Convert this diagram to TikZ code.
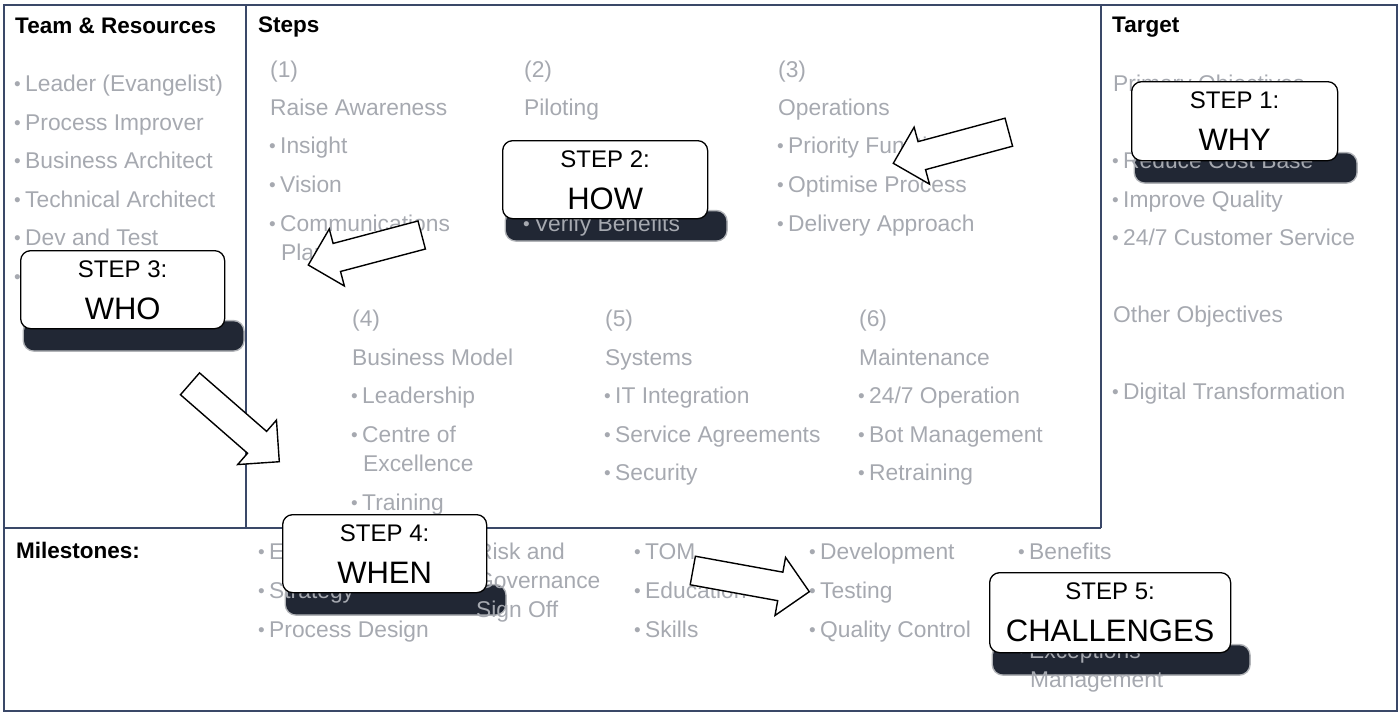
\documentclass[tikz,border=0pt]{standalone}
\usepackage{fontspec}
\setmainfont{Liberation Sans}
\usetikzlibrary{calc}
\definecolor{framecol}{RGB}{58,72,104}
\definecolor{graytxt}{RGB}{166,169,176}
\definecolor{shadowcol}{RGB}{33,39,52}
\pgfdeclarelayer{framelayer}
\pgfdeclarelayer{shadowlayer}
\pgfdeclarelayer{textlayer}
\pgfsetlayers{framelayer,shadowlayer,textlayer,main}

\newcommand\bul{\makebox[10pt][l]{\hspace{-1pt}\raisebox{0.6pt}{\fontsize{19}{19}\selectfont •}}}

\tikzset{
 gt/.style={anchor=base west, inner sep=0pt, text=graytxt, font=\fontsize{22.8}{26}\selectfont},
 hdr/.style={anchor=base west, inner sep=0pt, font=\fontsize{22.5}{26}\selectfont\bfseries},
 stepbox/.style={draw=black, line width=1.3pt, fill=white, rounded corners=10pt, anchor=north west, inner sep=0pt},
 steptop/.style={anchor=base, inner sep=0pt, font=\fontsize{24}{24}\selectfont},
 stepword/.style={anchor=base, inner sep=0pt, font=\fontsize{31}{31}\selectfont},
 blockarrowstyle/.style={draw=black, line width=1.4pt, fill=white, line join=miter},
 framestyle/.style={draw=framecol, line width=2pt},
 shadowstyle/.style={fill=shadowcol, rounded corners=10pt},
 shadowfuzz/.style={draw=shadowcol, draw opacity=0.35, line width=3pt, rounded corners=10pt},
}

\newcommand\mkstep[7]{%
 \node[stepbox, minimum width=#4pt, minimum height=#5pt] (#1) at (#2,#3) {};
 \node[steptop] (#1-a) at ($(#1.north)+(0,27)$) {#6};
 \node[stepword] (#1-b) at ($(#1.north)+(0,69)$) {#7};
 \begin{pgfonlayer}{shadowlayer}
 \fill[shadowstyle] ($(#1.south west)+(4,-8)$) rectangle ($(#1.south east)+(18,21)$);
 \draw[shadowfuzz] ($(#1.south west)+(4,-8)$) rectangle ($(#1.south east)+(18,21)$);
 \end{pgfonlayer}
}

\newcommand\blockarrow[3]{%
 \coordinate (#1-t) at #2;
 \coordinate (#1-h) at #3;
 \coordinate (#1-n) at ($(#1-h)!29.5pt!(#1-t)$);
 \draw[blockarrowstyle] ($(#1-t)!14.5pt!90:(#1-h)$) -- ($(#1-n)!14.5pt!-90:(#1-t)$)
   -- ($(#1-n)!29.5pt!-90:(#1-t)$) -- (#1-h) -- ($(#1-n)!29.5pt!90:(#1-t)$)
   -- ($(#1-n)!14.5pt!90:(#1-t)$) -- ($(#1-t)!14.5pt!-90:(#1-h)$) -- cycle;
}

\begin{document}
\begin{tikzpicture}[x=1pt,y=-1pt]
\useasboundingbox (0,0) rectangle (1400,713);

% frame
\begin{pgfonlayer}{framelayer}
\coordinate (fnw) at (4,5);
\coordinate (fse) at (1397,711);
\coordinate (v1t) at (246,5);
\coordinate (v1b) at (246,528);
\coordinate (v2t) at (1101,5);
\coordinate (v2b) at (1101,528);
\coordinate (hl) at (4,528);
\draw[framestyle] (fnw) rectangle (fse);
\draw[framestyle] (v1t) -- (v1b);
\draw[framestyle] (v2t) -- (v2b);
\draw[framestyle] (hl) -- (v2b);
\end{pgfonlayer}

% texts
\begin{pgfonlayer}{textlayer}
\node[hdr] (h1) at (15,33) {Team \& Resources};
\node[hdr] (h2) at (258,32) {Steps};
\node[hdr] (h3) at (1112,32) {Target};
\node[hdr] (h4) at (16,558) {Milestones:};

% team
\node[gt] (tm1) at (15,91) {\bul Leader (Evangelist)};
\node[gt] (tm2) at (15,130) {\bul Process Improver};
\node[gt] (tm3) at (15,168) {\bul Business Architect};
\node[gt] (tm4) at (15,207) {\bul Technical Architect};
\node[gt] (tm5) at (15,245) {\bul Dev and Test};
\node[gt] (tm6) at (15,284) {\bul};

% steps col 1
\node[gt] (c1a) at (270,77) {(1)};
\node[gt] (c1b) at (270,115) {Raise Awareness};
\node[gt] (c1c) at (270,153) {\bul Insight};
\node[gt] (c1d) at (270,192) {\bul Vision};
\node[gt] (c1e) at (270,231) {\bul Communications};
\node[gt] (c1f) at (281,260) {Plan};
% col 2
\node[gt] (c2a) at (524,77) {(2)};
\node[gt] (c2b) at (524,115) {Piloting};
\node[gt] (c2e) at (524,231) {\bul Verify Benefits};
% col 3
\node[gt] (c3a) at (778,77) {(3)};
\node[gt] (c3b) at (778,115) {Operations};
\node[gt] (c3c) at (778,153) {\bul Priority Functions};
\node[gt] (c3d) at (778,192) {\bul Optimise Process};
\node[gt] (c3e) at (778,231) {\bul Delivery Approach};
% col 4
\node[gt] (c4a) at (352,326) {(4)};
\node[gt] (c4b) at (352,365) {Business Model};
\node[gt] (c4c) at (352,403) {\bul Leadership};
\node[gt] (c4d) at (352,442) {\bul Centre of};
\node[gt] (c4e) at (363,471) {Excellence};
\node[gt] (c4f) at (352,510) {\bul Training};
% col 5
\node[gt] (c5a) at (605,326) {(5)};
\node[gt] (c5b) at (605,365) {Systems};
\node[gt] (c5c) at (605,403) {\bul IT Integration};
\node[gt] (c5d) at (605,442) {\bul Service Agreements};
\node[gt] (c5e) at (605,480) {\bul Security};
% col 6
\node[gt] (c6a) at (859,326) {(6)};
\node[gt] (c6b) at (859,365) {Maintenance};
\node[gt] (c6c) at (859,403) {\bul 24/7 Operation};
\node[gt] (c6d) at (859,442) {\bul Bot Management};
\node[gt] (c6e) at (859,480) {\bul Retraining};

% target
\node[gt] (tg1) at (1113,91) {Primary Objectives};
\node[gt] (tg2) at (1113,168) {\bul Reduce Cost Base};
\node[gt] (tg3) at (1113,207) {\bul Improve Quality};
\node[gt] (tg4) at (1113,245) {\bul 24/7 Customer Service};
\node[gt] (tg5) at (1113,322) {Other Objectives};
\node[gt] (tg6) at (1113,399) {\bul Digital Transformation};

% milestones
\node[gt] (mA1) at (259,559) {\bul E};
\node[gt] (mA2) at (259,598) {\bul Strategy};
\node[gt] (mA3) at (259,637) {\bul Process Design};
\node[gt] (mB1) at (466,559) {\bul Risk and};
\node[gt] (mB2) at (476,588) {Governance};
\node[gt] (mB3) at (476,617) {Sign Off};
\node[gt] (mC1) at (635,559) {\bul TOM};
\node[gt] (mC2) at (635,598) {\bul Education};
\node[gt] (mC3) at (635,637) {\bul Skills};
\node[gt] (mD1) at (810,559) {\bul Development};
\node[gt] (mD2) at (810,598) {\bul Testing};
\node[gt] (mD3) at (810,637) {\bul Quality Control};
\node[gt] (mE1) at (1019,559) {\bul Benefits};
\node[gt] (mE2) at (1019,658) {\bul Exceptions};
\node[gt] (mE3) at (1030,687) {Management};
\end{pgfonlayer}

% step boxes
\mkstep{s1}{1131}{81}{206}{79}{STEP 1:}{WHY}
\mkstep{s2}{502}{140}{205}{78}{STEP 2:}{HOW}
\mkstep{s3}{20}{250}{204}{78}{STEP 3:}{WHO}
\mkstep{s4}{282}{514}{204}{78}{STEP 4:}{WHEN}
\mkstep{s5}{989}{572}{241}{80}{STEP 5:}{CHALLENGES}

% block arrows
\blockarrow{a1}{(1008.8,132.2)}{(893.3,163.3)}
\blockarrow{a2}{(421.7,235)}{(308.3,265)}
\blockarrow{a3}{(190,383.8)}{(279.3,461.7)}
\blockarrow{a4}{(692.8,570.5)}{(809.3,591.7)}
\end{tikzpicture}
\end{document}
